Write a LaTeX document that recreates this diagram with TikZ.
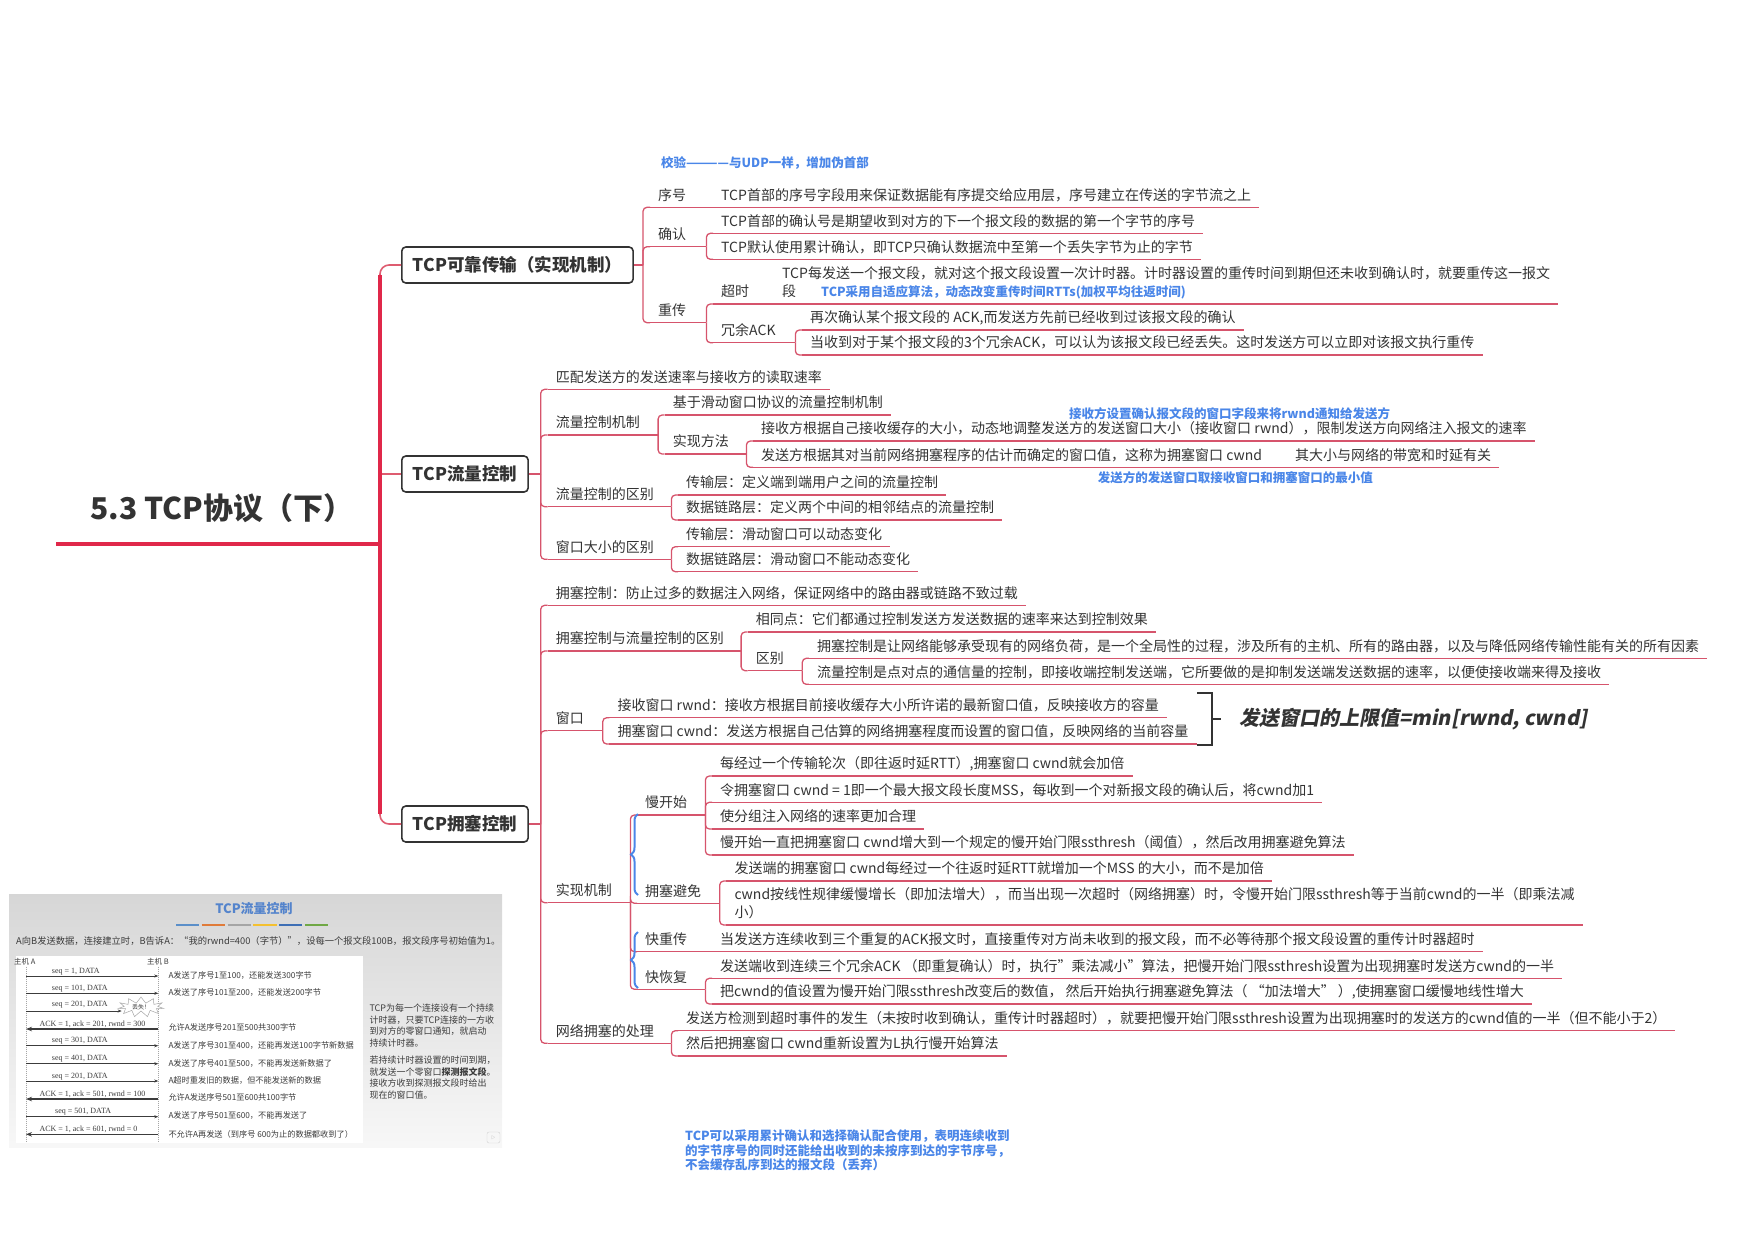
\documentclass[tikz,border=0pt]{standalone}
\usepackage{fontspec}
\setmainfont{Noto Sans CJK SC}
\newfontfamily\slantfont{Noto Sans CJK SC}[FakeSlant=0.2,BoldFeatures={FakeSlant=0.2}]
\newfontfamily\serifen{Liberation Serif}
\usetikzlibrary{arrows.meta,positioning,calc,shapes.symbols,decorations.pathreplacing}

\definecolor{txt}{RGB}{51,51,51}
\definecolor{ulc}{RGB}{214,84,108}
\definecolor{trunkc}{RGB}{224,40,74}
\definecolor{stubc}{RGB}{222,92,112}
\definecolor{notec}{RGB}{74,134,232}
\definecolor{ptxt}{RGB}{60,60,60}
\definecolor{ptitle}{RGB}{84,132,204}
\definecolor{barA}{RGB}{91,143,201}
\definecolor{barB}{RGB}{224,123,57}
\definecolor{barC}{RGB}{165,165,165}
\definecolor{barD}{RGB}{244,192,48}
\definecolor{barE}{RGB}{62,111,181}
\definecolor{barF}{RGB}{112,168,69}

\newcommand{\fs}{\fontsize{14}{18.5}\selectfont}
\newcommand{\fn}{\fontsize{12.5}{14.3}\selectfont\bfseries}

\begin{document}
\begin{tikzpicture}[x=1pt, y=-1pt,
  leaf/.style={anchor=south west, xshift=7pt, inner xsep=8pt, inner ysep=7pt,
               text depth=0pt, text height=10pt, font=\fs, text=txt},
  lab/.style={leaf, text width=#1, align=left},
  box/.style={anchor=west, draw=txt, line width=1.6pt, rounded corners=4pt,
              fill=white, font=\fontsize{17.5}{20}\selectfont\bfseries,
              text=txt, inner xsep=11pt, minimum height=36pt},
  ul/.style={draw=ulc, line width=1.3pt},
  link/.style={ul, rounded corners=4pt},
  trunk/.style={draw=trunkc, line width=3.5pt},
  stub/.style={draw=stubc, line width=1.6pt},
  note/.style={font=\fn, text=notec, inner sep=0pt},
  brc/.style={draw=notec, line width=2pt, decorate,
              decoration={brace, amplitude=7pt}},
  sqb/.style={draw=txt, line width=2.4pt},
  ptext/.style={anchor=west, font=\fontsize{8.2}{10}\selectfont, text=ptxt, inner sep=0pt},
  msglab/.style={anchor=base west, font=\serifen\fontsize{8}{9}\selectfont,
                 text=ptxt, inner sep=0pt},
  sq/.style={draw=ptxt, line width=0.6pt, -{Stealth[length=4pt,width=3pt]}},
  ak/.style={draw=ptxt, line width=1.1pt, -{Stealth[length=6pt,width=4.5pt]}},
  life/.style={draw=gray!70, line width=0.6pt, dash pattern=on 1pt off 1pt}
]
\useasboundingbox (0,0) rectangle (1755,1240);

% title and trunk
\node[font=\fontsize{30}{34}\selectfont\bfseries, text=txt, anchor=base west,
      inner sep=0pt] (ti) at (90,519) {5.3 TCP协议（下）};
\coordinate (tl) at (56,544);
\coordinate (tr) at (380,544);

\node[box] (b1) at (401,265) {TCP可靠传输（实现机制）};
\node[box] (b2) at (401,474) {TCP流量控制};
\node[box] (b3) at (401,824) {TCP拥塞控制};

\draw[stub, rounded corners=9pt] (b1.west) -| (tr) |- (b3.west);
\draw[stub] (b2.west) -- (b2.west -| tr);
\draw[trunk] ([yshift=-10pt]b1.west -| tr) -- ([yshift=10pt]b3.west -| tr);
\draw[trunk, line width=4pt] (tl) -- (tr);

% TCP reliable transfer
\coordinate (j1) at (643,265);
\node[note, anchor=west] (jy) at (661,163) {校验————与UDP一样，增加伪首部};
\node[lab=40pt] (xh) at (643,207.3) {序号};
\node[leaf] (xh1) at (706,207.3) {TCP首部的序号字段用来保证数据能有序提交给应用层，序号建立在传送的字节流之上};
\node[lab=40pt] (qr) at (643,246.7) {确认};
\node[leaf] (qr1) at (706,233.3) {TCP首部的确认号是期望收到对方的下一个报文段的数据的第一个字节的序号};
\node[leaf] (qr2) at (706,259.3) {TCP默认使用累计确认，即TCP只确认数据流中至第一个丢失字节为止的字节};
\node[lab=40pt] (cc) at (643,322.7) {重传};
\node[lab=38pt] (cs) at (706,304) {超时};
\node[leaf] (cs1) at (767,304) {\begin{tabular}[b]{@{}l@{}}TCP每发送一个报文段，就对这个报文段设置一次计时器。计时器设置的重传时间到期但还未收到确认时，就要重传这一报文\\
  段\hspace{25pt}{\fn\color{notec}TCP采用自适应算法，动态改变重传时间RTTs(加权平均往返时间)}\end{tabular}};
\node[lab=66pt] (ry) at (706,342.7) {冗余ACK};
\node[leaf] (ry1) at (795,330) {再次确认某个报文段的 ACK,而发送方先前已经收到过该报文段的确认};
\node[leaf] (ry2) at (795,355) {当收到对于某个报文段的3个冗余ACK，可以认为该报文段已经丢失。这时发送方可以立即对该报文执行重传};

% TCP flow control
\coordinate (j2) at (540.7,474);
\node[leaf] (pp) at (540.7,389.3) {匹配发送方的发送速率与接收方的读取速率};
\node[lab=94pt] (lj) at (540.7,435) {流量控制机制};
\node[leaf] (lj1) at (657.7,415) {基于滑动窗口协议的流量控制机制};
\node[lab=65.3pt] (sf) at (657.7,454) {实现方法};
\node[leaf] (sf1) at (746,441) {接收方根据自己接收缓存的大小，动态地调整发送方的发送窗口大小（接收窗口 rwnd），限制发送方向网络注入报文的速率};
\node[leaf] (sf2) at (746,467.3) {发送方根据其对当前网络拥塞程序的估计而确定的窗口值，这称为拥塞窗口 cwnd\hspace{33pt}其大小与网络的带宽和时延有关};
\node[note, anchor=west] (bn1) at (1068.8,413.3) {接收方设置确认报文段的窗口字段来将rwnd通知给发送方};
\node[note, anchor=west] (bn2) at (1097.7,477.3) {发送方的发送窗口取接收窗口和拥塞窗口的最小值};
\node[lab=107.3pt] (qb) at (540.7,506.7) {流量控制的区别};
\node[leaf] (qb1) at (671,495) {传输层：定义端到端用户之间的流量控制};
\node[leaf] (qb2) at (671,520) {数据链路层：定义两个中间的相邻结点的流量控制};
\node[lab=107.3pt] (ck) at (540.7,559.3) {窗口大小的区别};
\node[leaf] (ck1) at (671,546.7) {传输层：滑动窗口可以动态变化};
\node[leaf] (ck2) at (671,571.7) {数据链路层：滑动窗口不能动态变化};

% TCP congestion control
\coordinate (j3) at (540.7,824);
\node[leaf] (yk) at (540.7,605.3) {拥塞控制：防止过多的数据注入网络，保证网络中的路由器或链路不致过载};
\node[lab=177pt] (yq) at (540.7,651) {拥塞控制与流量控制的区别};
\node[leaf] (yq1) at (740.7,632) {相同点：它们都通过控制发送方发送数据的速率来达到控制效果};
\node[lab=38.2pt] (yq2) at (740.7,670.7) {区别};
\node[leaf] (yq21) at (801.9,658.3) {拥塞控制是让网络能够承受现有的网络负荷，是一个全局性的过程，涉及所有的主机、所有的路由器，以及与降低网络传输性能有关的所有因素};
\node[leaf] (yq22) at (801.9,684.3) {流量控制是点对点的通信量的控制，即接收端控制发送端，它所要做的是抑制发送端发送数据的速率，以便使接收端来得及接收};
\node[lab=38.6pt] (wk) at (540.7,730.7) {窗口};
\node[leaf] (wk1) at (602.3,717.7) {接收窗口 rwnd：接收方根据目前接收缓存大小所许诺的最新窗口值，反映接收方的容量};
\node[leaf] (wk2) at (602.3,744) {拥塞窗口 cwnd：发送方根据自己估算的网络拥塞程度而设置的窗口值，反映网络的当前容量};
\draw[sqb] (1197,693) -- (1212,693) -- (1212,745) -- (1197,745);
\draw[sqb] (1212,719) -- (1221,719);
\node[anchor=west, font=\fontsize{20}{24}\slantfont\bfseries, text=txt] (fm) at (1236,719) {发送窗口的上限值=min[rwnd, cwnd]};

\node[lab=66.3pt] (sx) at (540.7,902.7) {实现机制};
\node[lab=52pt] (mk) at (630,815) {慢开始};
\node[leaf] (mk1) at (705,776) {每经过一个传输轮次（即往返时延RTT）,拥塞窗口 cwnd就会加倍};
\node[leaf] (mk2) at (705,802.3) {令拥塞窗口 cwnd = 1即一个最大报文段长度MSS，每收到一个对新报文段的确认后，将cwnd加1};
\node[leaf] (mk3) at (705,829) {使分组注入网络的速率更加合理};
\node[leaf] (mk4) at (705,855) {慢开始一直把拥塞窗口 cwnd增大到一个规定的慢开始门限ssthresh（阈值），然后改用拥塞避免算法};
\node[lab=66.3pt] (bm) at (630,903.3) {拥塞避免};
\node[leaf] (bm1) at (719.3,881) {发送端的拥塞窗口 cwnd每经过一个往返时延RTT就增加一个MSS 的大小，而不是加倍};
\node[leaf] (bm2) at (719.3,925) {\begin{tabular}[b]{@{}l@{}}cwnd按线性规律缓慢增长（即加法增大），而当出现一次超时（网络拥塞）时，令慢开始门限ssthresh等于当前cwnd的一半（即乘法减\\
  小）\end{tabular}};
\node[lab=52pt] (kc) at (630,951.7) {快重传};
\node[leaf] (kc1) at (705,951.7) {当发送方连续收到三个重复的ACK报文时，直接重传对方尚未收到的报文段，而不必等待那个报文段设置的重传计时器超时};
\node[lab=52pt] (kh) at (630,989.3) {快恢复};
\node[leaf] (kh1) at (705,978.3) {发送端收到连续三个冗余ACK （即重复确认）时，执行"乘法减小"算法，把慢开始门限ssthresh设置为出现拥塞时发送方cwnd的一半};
\node[leaf] (kh2) at (705,1004) {把cwnd的值设置为慢开始门限ssthresh改变后的数值， 然后开始执行拥塞避免算法（ “加法增大” ）,使拥塞窗口缓慢地线性增大};
\node[lab=107.3pt] (wl) at (540.7,1043.3) {网络拥塞的处理};
\node[leaf] (wl1) at (671,1030.7) {发送方检测到超时事件的发生（未按时收到确认，重传计时器超时），就要把慢开始门限ssthresh设置为出现拥塞时的发送方的cwnd值的一半（但不能小于2）};
\node[leaf] (wl2) at (671,1056) {然后把拥塞窗口 cwnd重新设置为L执行慢开始算法};

\node[note, anchor=north west, align=left] (bn3) at (685,1130) {TCP可以采用累计确认和选择确认配合使用，表明连续收到\\的字节序号的同时还能给出收到的未按序到达的字节序号，\\不会缓存乱序到达的报文段（丢弃）};

% underlines
\foreach \n in {xh,xh1,qr,qr1,qr2,cc,cs,cs1,ry,ry1,ry2,pp,lj,lj1,sf,sf1,sf2,qb,qb1,qb2,
                ck,ck1,ck2,yk,yq,yq1,yq2,yq21,yq22,wk,wk1,wk2,sx,mk,mk1,mk2,mk3,mk4,
                bm,bm1,bm2,kc,kc1,kh,kh1,kh2,wl,wl1,wl2}
  \draw[ul] (\n.south west) -- (\n.south east);

% links
\draw[ul] (b1.east) -- (j1);
\draw[ul] (b2.east) -- (j2);
\draw[ul] (b3.east) -- (j3);
\foreach \c in {xh,qr,cc} \draw[link] (j1) |- (\c.south west);
\draw[link] (xh.south east) -- (xh1.south west);
\foreach \c in {qr1,qr2} \draw[link] (qr.south east) |- (\c.south west);
\foreach \c in {cs,ry} \draw[link] (cc.south east) |- (\c.south west);
\draw[link] (cs.south east) -- (cs1.south west);
\foreach \c in {ry1,ry2} \draw[link] (ry.south east) |- (\c.south west);
\foreach \c in {pp,lj,qb,ck} \draw[link] (j2) |- (\c.south west);
\foreach \c in {lj1,sf} \draw[link] (lj.south east) |- (\c.south west);
\foreach \c in {sf1,sf2} \draw[link] (sf.south east) |- (\c.south west);
\foreach \c in {qb1,qb2} \draw[link] (qb.south east) |- (\c.south west);
\foreach \c in {ck1,ck2} \draw[link] (ck.south east) |- (\c.south west);
\foreach \c in {yk,yq,wk,sx,wl} \draw[link] (j3) |- (\c.south west);
\foreach \c in {yq1,yq2} \draw[link] (yq.south east) |- (\c.south west);
\foreach \c in {yq21,yq22} \draw[link] (yq2.south east) |- (\c.south west);
\foreach \c in {wk1,wk2} \draw[link] (wk.south east) |- (\c.south west);
\foreach \c in {mk,bm,kc,kh} \draw[link] (sx.south east) |- (\c.south west);
\foreach \c in {mk1,mk2,mk3,mk4} \draw[link] (mk.south east) |- (\c.south west);
\foreach \c in {bm1,bm2} \draw[link] (bm.south east) |- (\c.south west);
\draw[link] (kc.south east) -- (kc1.south west);
\foreach \c in {kh1,kh2} \draw[link] (kh.south east) |- (\c.south west);
\foreach \c in {wl1,wl2} \draw[link] (wl.south east) |- (\c.south west);

% blue braces
\draw[brc] (638,895) -- (638,814);
\draw[brc] (638,988) -- (638,932);

% slide screenshot
\fill[top color=gray!32, bottom color=gray!6] (9,894) rectangle (502,1147);
\fill[white] (16,956) rectangle (363,1143);
\node[font=\fontsize{13}{15}\selectfont\bfseries, text=ptitle] (pt) at (254,909) {TCP流量控制};
\foreach \xa/\cc in {176/barA,201.7/barB,227.7/barC,253.3/barD,279/barE,305/barF}
  \draw[\cc, line width=2.6pt] (\xa,925) -- ++(23.3,0);
\node[ptext, font=\fontsize{9.3}{11}\selectfont] (pd) at (16,941) {A向B发送数据，连接建立时，B告诉A：“我的rwnd=400（字节）”，设每一个报文段100B，报文段序号初始值为1。};
\node[ptext, font=\fontsize{7.5}{9}\selectfont] (hA) at (14,961.7) {主机 A};
\node[ptext, font=\fontsize{7.5}{9}\selectfont] (hB) at (147,961.7) {主机 B};
\coordinate (la) at (26,966.7);
\coordinate (lb) at (158.3,966.7);
\coordinate (la2) at (26,1141);
\coordinate (lb2) at (158.3,1141);
\draw[life] (la) -- (la2);
\draw[life] (lb) -- (lb2);

\foreach \yy/\xl/\lbl [count=\i] in {976/51.7/{seq = 1, DATA}, 993.3/51.7/{seq = 101, DATA},
    1045.7/51.7/{seq = 301, DATA}, 1063.7/51.7/{seq = 401, DATA},
    1081/51.7/{seq = 201, DATA}, 1116.7/55/{seq = 501, DATA}} {
  \draw[sq] (la |- 0,\yy) -- (lb |- 0,\yy);
  \node[msglab] (sl\i) at (\xl,\yy-3) {\lbl};
}
\foreach \yy/\lbl [count=\i] in {1029/{ACK = 1, ack = 201, rwnd = 300},
    1099/{ACK = 1, ack = 501, rwnd = 100}, 1134.3/{ACK = 1, ack = 601, rwnd = 0}} {
  \draw[ak] (lb |- 0,\yy) -- (la |- 0,\yy);
  \node[msglab] (al\i) at (39.3,\yy-3) {\lbl};
}
\node[starburst, starburst points=11, starburst point height=6pt, random starburst=0,
      draw=gray!70, fill=white, line width=0.5pt, inner sep=0pt,
      minimum width=46pt, minimum height=20pt, font=\fontsize{6}{7}\selectfont,
      text=ptxt] (ds) at (141,1007) {丢失！};
\draw[sq] (la |- 0,1011) -- (ds.west |- 0,1011);
\node[msglab] (sl0) at (51.7,1006) {seq = 201, DATA};

\foreach \yy/\tx [count=\i] in {975/{A发送了序号1至100，还能发送300字节},
    992.3/{A发送了序号101至200，还能发送200字节},
    1027.7/{允许A发送序号201至500共300字节},
    1045/{A发送了序号301至400，还能再发送100字节新数据},
    1063/{A发送了序号401至500，不能再发送新数据了},
    1080.7/{A超时重发旧的数据，但不能发送新的数据},
    1097.7/{允许A发送序号501至600共100字节},
    1115.7/{A发送了序号501至600，不能再发送了},
    1134/{不允许A再发送（到序号 600为止的数据都收到了）}}
  \node[ptext] (rt\i) at (168.3,\yy) {\tx};

\node[ptext, anchor=north west, align=left, font=\fontsize{9}{11.5}\selectfont]
  (rc1) at (369.3,1004) {TCP为每一个连接设有一个持续\\计时器，只要TCP连接的一方收\\到对方的零窗口通知，就启动\\持续计时器。};
\node[ptext, anchor=north west, align=left, font=\fontsize{9}{11.5}\selectfont]
  (rc2) at (369.3,1056) {若持续计时器设置的时间到期，\\就发送一个零窗口\textbf{探测报文段}。\\接收方收到探测报文段时给出\\现在的窗口值。};
\node[draw=gray!35, rounded corners=2pt, minimum width=13pt, minimum height=11pt,
      inner sep=0pt, text=gray!40, font=\fontsize{7}{7}\selectfont] (pl) at (493.5,1137.5) {$\triangleright$};
\end{tikzpicture}
\end{document}
